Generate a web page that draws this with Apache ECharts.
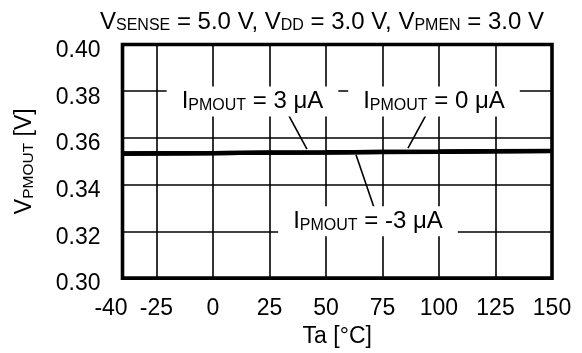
<!DOCTYPE html>
<html>
<head>
<meta charset="utf-8">
<script src="https://cdn.jsdelivr.net/npm/echarts@6/dist/echarts.min.js"></script>
<style>
  html, body { margin: 0; padding: 0; background: #fff; }
  #chart { width: 582px; height: 353px; }
</style>
</head>
<body>
<div id="chart"></div>
<script>
// Ambient temperature samples (°C)
const temperatures = [-40, -25, 0, 25, 50, 75, 100, 125, 150];
// VPMOUT (V) for each output current
const vpmoutPlus3uA  = [0.35333, 0.35343, 0.35353, 0.35373, 0.35383, 0.35403, 0.35413, 0.35433, 0.35443];
const vpmoutZero     = [0.35330, 0.35340, 0.35350, 0.35370, 0.35380, 0.35400, 0.35410, 0.35430, 0.35440];
const vpmoutMinus3uA = [0.35327, 0.35337, 0.35347, 0.35367, 0.35377, 0.35397, 0.35407, 0.35427, 0.35437];
// Axis tick values
const xTickValues = [-40, -25, 0, 25, 50, 75, 100, 125, 150];
const yTickValues = [0.30, 0.32, 0.34, 0.36, 0.38, 0.40];
// Curve callouts: current text, label anchor, leader start and end (data units)
const calloutCurrents = ['3', '0', '-3'];
const calloutAnchors  = [[17.5, 0.3756], [97.8, 0.3756], [68.6, 0.3243]];
const leaderStarts    = [[32.8, 0.3709], [94.3, 0.3699], [71.3, 0.3301]];
const leaderEnds      = [[41.6, 0.3552], [86.3, 0.3556], [63.3, 0.3528]];

const FONT = '"Liberation Sans", Arial, Helvetica, sans-serif';

// Rich styles: normal-size text and small-caps style subscripts sharing a baseline
function richStyles(big, small) {
  return {
    v: { fontFamily: FONT, fontSize: big, fontWeight: 'normal', color: '#000', lineHeight: big, verticalAlign: 'bottom' },
    s: { fontFamily: FONT, fontSize: small, fontWeight: 'normal', color: '#000', lineHeight: small, verticalAlign: 'bottom' }
  };
}

const pairs = vals => temperatures.map((t, i) => [t, vals[i]]);

const curveSeries = [vpmoutPlus3uA, vpmoutZero, vpmoutMinus3uA].map((vals, i) => ({
  type: 'line',
  name: 'IPMOUT = ' + calloutCurrents[i] + ' μA',
  data: pairs(vals),
  showSymbol: false,
  symbol: 'none',
  lineStyle: { color: '#000', width: 4.2 },
  z: 3,
  silent: true
}));

const leaderSeries = leaderStarts.map((p, i) => ({
  type: 'line',
  data: [p, leaderEnds[i]],
  symbol: 'none',
  lineStyle: { color: '#000', width: 1.6 },
  z: 4,
  silent: true
}));

const calloutSeries = {
  type: 'scatter',
  data: calloutAnchors.map((p, i) => ({ value: p, current: calloutCurrents[i] })),
  symbolSize: 0,
  itemStyle: { opacity: 1, color: '#000' },
  z: 5,
  silent: true,
  label: {
    show: true,
    position: 'inside',
    opacity: 1,
    backgroundColor: '#fff',
    padding: [3, 15, 3, 15],
    formatter: p => '{v|I}{s|PMOUT}{v| = ' + p.data.current + ' μA}',
    rich: richStyles(24, 16)
  }
};

const chart = echarts.init(document.getElementById('chart'), null, { renderer: 'canvas' });
chart.setOption({
  animation: false,
  backgroundColor: '#fff',
  title: {
    text: '{v|V}{s|SENSE}{v| = 5.0 V, V}{s|DD}{v| = 3.0 V, V}{s|PMEN}{v| = 3.0 V}',
    left: 100,
    top: 10,
    padding: 0,
    textStyle: { fontWeight: 'normal', rich: richStyles(24, 16) }
  },
  grid: {
    left: 122.5, right: 30, top: 44.5, bottom: 74.5,
    show: true,
    borderColor: '#000',
    borderWidth: 3.6,
    backgroundColor: 'transparent'
  },
  xAxis: {
    type: 'value',
    min: -40,
    max: 150,
    axisLine: { show: false },
    axisTick: { show: false, customValues: xTickValues },
    splitLine: { show: true, lineStyle: { color: '#000', width: 1.6 } },
    axisLabel: {
      customValues: xTickValues,
      margin: 19,
      fontFamily: FONT,
      fontSize: 23,
      color: '#000',
      formatter: v => v === -40 ? '{m|-40}' : String(v),
      rich: { m: { fontFamily: FONT, fontSize: 23, color: '#000', padding: [0, 23, 0, 0] } }
    },
    name: 'Ta [°C]',
    nameLocation: 'middle',
    nameGap: 45,
    nameTextStyle: { fontFamily: FONT, fontSize: 23, color: '#000' }
  },
  yAxis: {
    type: 'value',
    min: 0.30,
    max: 0.40,
    interval: 0.02,
    axisLine: { show: false },
    axisTick: { show: false },
    splitLine: { show: true, lineStyle: { color: '#000', width: 1.6 } },
    axisLabel: {
      margin: 22,
      fontFamily: FONT,
      fontSize: 23,
      color: '#000',
      verticalAlign: 'top',
      lineHeight: 12,
      formatter: v => yTickValues.find(t => Math.abs(t - v) < 1e-9).toFixed(2)
    },
    name: '{v|V}{s|PMOUT}{v| [V]}',
    nameLocation: 'middle',
    nameRotate: 90,
    nameGap: 86,
    nameTextStyle: { rich: richStyles(23, 15.5) }
  },
  series: [...curveSeries, ...leaderSeries, calloutSeries]
});
</script>
</body>
</html>
